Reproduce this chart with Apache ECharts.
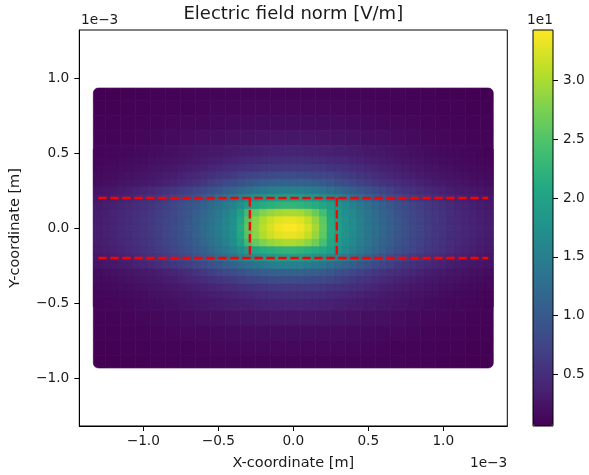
<!DOCTYPE html>
<html><head><meta charset="utf-8">
<script src="https://cdn.jsdelivr.net/npm/echarts@6/dist/echarts.min.js"></script>
<style>html,body{margin:0;padding:0;background:#fff}#c{width:589px;height:475px}</style>
</head><body><div id="c"></div>
<script>
// ---- data (x, y in units of 1e-3 m; field in V/m) ----
// coarse grid over the whole domain
const xCenters = [-1.3,-1.2,-1.1,-1.0,-0.9,-0.8,-0.7,-0.6,-0.5,-0.4,-0.3,-0.2,-0.1,0.0,0.1,0.2,0.3,0.4,0.5,0.6,0.7,0.8,0.9,1.0,1.1,1.2,1.3];
const yCenters = [0.9,0.8,0.7,0.6,0.5,0.4,0.3,0.2,0.1,0.0,-0.1,-0.2,-0.3,-0.4,-0.5,-0.6,-0.7,-0.8,-0.9];

const rowYp09 = [0.6,0.6,0.7,0.7,0.8,0.8,0.9,0.9,0.9,1.0,1.0,1.0,1.0,1.0,1.0,1.0,1.0,1.0,0.9,0.9,0.9,0.8,0.8,0.7,0.7,0.6,0.6];
const rowYp08 = [0.7,0.7,0.8,0.8,0.9,1.0,1.0,1.1,1.2,1.2,1.3,1.3,1.3,1.3,1.3,1.3,1.3,1.2,1.2,1.1,1.0,1.0,0.9,0.8,0.8,0.7,0.7];
const rowYp07 = [0.8,0.8,0.9,1.0,1.1,1.2,1.3,1.4,1.5,1.6,1.7,1.8,1.8,1.8,1.8,1.8,1.7,1.6,1.5,1.4,1.3,1.2,1.1,1.0,0.9,0.8,0.8];
const rowYp06 = [0.9,1.0,1.1,1.2,1.4,1.5,1.7,1.9,2.0,2.2,2.4,2.5,2.6,2.6,2.6,2.5,2.4,2.2,2.0,1.9,1.7,1.5,1.3,1.2,1.1,1.0,0.9];
const rowYp05 = [1.1,1.2,1.4,1.6,1.8,2.0,2.3,2.6,2.9,3.2,3.5,3.7,3.9,4.0,3.9,3.7,3.5,3.2,2.9,2.6,2.3,2.0,1.8,1.5,1.3,1.2,1.0];
const rowYp04 = [1.4,1.6,1.8,2.1,2.4,2.8,3.2,3.7,4.3,4.9,5.4,5.9,6.2,6.3,6.2,5.9,5.4,4.9,4.3,3.7,3.2,2.8,2.4,2.0,1.7,1.5,1.3];
const rowYp03 = [1.8,2.1,2.5,2.9,3.4,4.0,4.8,5.7,6.7,7.7,8.6,9.3,9.8,10.0,9.8,9.4,8.7,7.8,6.8,5.8,4.9,4.1,3.4,2.9,2.4,2.0,1.7];
const rowYp02 = [2.8,3.3,3.9,4.7,5.6,6.7,8.1,9.7,11.5,13.4,15.5,17.0,17.8,17.8,17.2,16.2,14.6,12.9,11.0,9.4,7.9,6.5,5.4,4.5,3.8,3.2,2.7];
const rowYp01 = [3.2,3.8,4.6,5.4,6.5,7.8,9.5,11.6,13.9,16.5,22.0,26.0,28.5,29.0,27.5,24.0,18.8,15.8,13.3,11.1,9.2,7.6,6.3,5.2,4.4,3.7,3.1];
const rowY000 = [3.4,4.0,4.8,5.7,6.8,8.2,10.0,12.2,14.6,17.5,24.5,30.0,33.5,34.3,32.0,27.0,20.0,16.8,14.0,11.7,9.7,8.0,6.6,5.5,4.6,3.9,3.3];
const rowYm01 = [3.2,3.8,4.6,5.4,6.5,7.8,9.5,11.6,13.9,16.5,22.0,26.0,28.5,29.0,27.5,24.5,19.0,15.8,13.3,11.1,9.2,7.6,6.3,5.2,4.4,3.7,3.1];
const rowYm02 = [2.8,3.3,3.9,4.7,5.6,6.7,8.1,9.7,11.5,13.4,15.5,17.0,17.8,17.8,17.2,16.2,14.6,12.9,11.0,9.4,7.9,6.5,5.4,4.5,3.8,3.2,2.7];
const rowYm03 = [1.8,2.1,2.5,2.9,3.4,4.0,4.8,5.7,6.7,7.7,8.6,9.3,9.8,10.0,9.8,9.4,8.7,7.8,6.8,5.8,4.9,4.1,3.4,2.9,2.4,2.0,1.7];
const rowYm04 = [1.4,1.6,1.8,2.1,2.4,2.8,3.2,3.7,4.3,4.9,5.4,5.9,6.2,6.3,6.2,5.9,5.4,4.9,4.3,3.7,3.2,2.8,2.4,2.0,1.7,1.5,1.3];
const rowYm05 = [1.1,1.2,1.4,1.6,1.8,2.0,2.3,2.6,2.9,3.2,3.5,3.7,3.9,4.0,3.9,3.7,3.5,3.2,2.9,2.6,2.3,2.0,1.8,1.5,1.3,1.2,1.0];
const rowYm06 = [0.9,1.0,1.1,1.2,1.4,1.5,1.7,1.9,2.0,2.2,2.4,2.5,2.6,2.6,2.6,2.5,2.4,2.2,2.0,1.9,1.7,1.5,1.3,1.2,1.1,1.0,0.9];
const rowYm07 = [0.8,0.8,0.9,1.0,1.1,1.2,1.3,1.4,1.5,1.6,1.7,1.8,1.8,1.8,1.8,1.8,1.7,1.6,1.5,1.4,1.3,1.2,1.1,1.0,0.9,0.8,0.8];
const rowYm08 = [0.7,0.7,0.8,0.8,0.9,1.0,1.0,1.1,1.2,1.2,1.3,1.3,1.3,1.3,1.3,1.3,1.3,1.2,1.2,1.1,1.0,1.0,0.9,0.8,0.8,0.7,0.7];
const rowYm09 = [0.6,0.6,0.7,0.7,0.8,0.8,0.9,0.9,0.9,1.0,1.0,1.0,1.0,1.0,1.0,1.0,1.0,1.0,0.9,0.9,0.9,0.8,0.8,0.7,0.7,0.6,0.6];
const fieldRows = [rowYp09,rowYp08,rowYp07,rowYp06,rowYp05,rowYp04,rowYp03,rowYp02,rowYp01,rowY000,
                   rowYm01,rowYm02,rowYm03,rowYm04,rowYm05,rowYm06,rowYm07,rowYm08,rowYm09];

// finer grid over the band region |y| <= 0.5
const fineX = [-1.30,-1.25,-1.20,-1.15,-1.10,-1.05,-1.00,-0.95,-0.90,-0.85,-0.80,-0.75,-0.70,-0.65,
               -0.60,-0.55,-0.50,-0.45,-0.40,-0.35,-0.30,-0.25,-0.20,-0.15,-0.10,-0.05,0.00,0.05,0.10,0.15,0.20,0.25,0.30,0.35,0.40,0.45,0.50,0.55,0.60,
               0.65,0.70,0.75,0.80,0.85,0.90,0.95,1.00,1.05,1.10,1.15,1.20,1.25,1.30];
const fineY = [0.50,0.45,0.40,0.35,0.30,0.25,0.20,0.15,0.10,0.05,0.00,-0.05,-0.10,-0.15,-0.20,-0.25,-0.30,-0.35,-0.40,-0.45,-0.50];

const fineYp050 = [1.1,1.2,1.2,1.3,1.4,1.5, 1.6,1.7,1.8,1.9,2.0,2.2,2.3,2.5,2.6,2.8,2.9,3.1,3.2,3.4,3.5,3.6,3.7,3.8,3.9,4.0,4.0,4.0,3.9,3.8,3.7,3.6,3.5,3.4,3.2,3.1,2.9,2.8,2.6,2.5,2.3,2.2,2.0,1.9,1.8,1.6,1.5, 1.4,1.3,1.2,1.2,1.1,1.0];
const fineYp045 = [1.2,1.3,1.4,1.5,1.6,1.7, 1.8,1.9,2.1,2.2,2.4,2.5,2.7,2.9,3.1,3.3,3.5,3.7,3.9,4.1,4.3,4.5,4.7,4.8,4.9,5.0,5.0,5.0,4.9,4.8,4.7,4.5,4.3,4.1,3.9,3.7,3.5,3.3,3.1,2.9,2.7,2.5,2.4,2.2,2.0,1.9,1.7, 1.6,1.5,1.4,1.3,1.2,1.1];
const fineYp040 = [1.4,1.5,1.6,1.7,1.8,2.0, 2.1,2.3,2.4,2.6,2.8,3.0,3.2,3.5,3.7,4.0,4.3,4.6,4.9,5.2,5.4,5.7,5.9,6.1,6.2,6.3,6.3,6.3,6.2,6.1,5.9,5.7,5.4,5.2,4.9,4.6,4.3,4.0,3.7,3.5,3.2,3.0,2.8,2.6,2.4,2.2,2.0, 1.9,1.8,1.6,1.5,1.4,1.3];
const fineYp035 = [1.6,1.7,1.8,2.0,2.2,2.3, 2.5,2.7,2.9,3.2,3.4,3.7,4.1,4.4,4.8,5.2,5.6,6.0,6.4,6.8,7.2,7.5,7.8,8.0,8.2,8.3,8.3,8.2,8.1,7.9,7.6,7.3,6.9,6.5,6.1,5.7,5.3,4.9,4.5,4.2,3.9,3.6,3.3,3.0,2.8,2.6,2.4, 2.2,2.1,1.9,1.8,1.6,1.5];
const fineYp030 = [1.8,1.9,2.1,2.3,2.5,2.7, 2.9,3.1,3.4,3.7,4.0,4.4,4.8,5.3, 6.0,6.6,7.2,7.8,8.4,9.0,9.6,10.1,10.5,10.8,11.0,11.1,11.1,11.0,10.8,10.4,10.0,9.5,8.9,8.3,7.7,7.1,6.5,6.0,5.5, 5.1,4.8,4.4,4.1,3.7,3.4,3.1,2.9, 2.7,2.5,2.3,2.1,1.9,1.7];
const fineYp025 = [2.4,2.6,2.8,3.1,3.4,3.7, 4.0,4.4,4.8,5.3,5.8,6.3,6.8,7.4, 8.0,8.8,9.6,10.4,11.2,12.0,12.8,13.5,14.1,14.6,15.0,15.2,15.2,15.0,14.6,14.1,13.5,12.8,12.0,11.2,10.4,9.6,8.8,8.1,7.4, 6.8,6.2,5.7,5.2,4.8,4.4,4.0,3.7, 3.4,3.1,2.9,2.7,2.5,2.3];
const fineYp020 = [2.8,3.0,3.3,3.6,3.9,4.3, 4.8,5.3,5.8,6.4,7.0,7.6,8.3,9.1, 9.9,10.9,11.9,12.9,13.9,15.0,16.2,17.2,18.0,18.6,19.0,19.2,19.2,19.0,18.6,18.0,17.2,16.3,15.4,14.2,13.1,12.0,11.0,10.0,9.1, 8.3,7.6,6.9,6.3,5.8,5.3,4.8,4.4, 4.0,3.7,3.4,3.1,2.9,2.7];
const fineYp015 = [3.0,3.3,3.6,4.0,4.4,4.8, 5.2,5.7,6.3,6.9,7.6,8.3,9.1,10.0, 10.9,12.0,13.2,14.4,15.6,17.2,19.0,20.3,21.2,21.8,22.3,22.6,22.6,22.3,21.8,21.2,20.3,19.2,18.0,16.5,15.3,14.1,12.9,11.8,10.7, 9.7,8.9,8.1,7.4,6.7,6.1,5.6,5.1, 4.6,4.2,3.8,3.5,3.2,2.9];
const fineYp010 = [3.2,3.5,3.8,4.2,4.6,5.0, 5.4,6.0,6.6,7.2,7.9,8.7,9.5,10.5, 11.6,12.8,14.0,15.3,16.8,19.5,23.8,26.2,27.8,28.8,29.6,30.0,30.0,29.6,28.5,26.5,24.0,20.2,18.9,17.3,16.2,14.8,13.5,12.3,11.2, 10.2,9.3,8.5,7.7,7.0,6.4,5.8,5.3, 4.8,4.4,4.0,3.7,3.4,3.1];
const fineYp005 = [3.3,3.6,3.9,4.3,4.7,5.1, 5.5,6.1,6.7,7.4,8.1,8.9,9.8,10.7, 12.0,13.2,14.4,15.8,17.3,20.8,25.2,28.3,30.3,31.7,32.7,33.2,33.2,32.7,31.3,28.8,25.8,20.9,19.4,17.6,16.6,15.1,13.8,12.6,11.5, 10.5,9.6,8.7,7.9,7.2,6.5,5.9,5.4, 4.9,4.5,4.1,3.8,3.5,3.2];
const fineY000  = [3.4,3.7,4.0,4.4,4.8,5.2, 5.6,6.2,6.8,7.5,8.2,9.0,9.9,10.9, 12.2,13.4,14.6,16.0,17.5,21.2,25.6,28.6,30.7,32.2,33.6,34.1,34.3,33.6,32.2,29.7,26.2,21.1,19.6,17.8,16.8,15.3,14.0,12.8,11.7, 10.7,9.7,8.8,8.0,7.3,6.6,6.0,5.5, 5.0,4.6,4.2,3.9,3.6,3.3];
const fineYm005 = [3.3,3.6,3.9,4.3,4.7,5.1, 5.5,6.1,6.7,7.4,8.1,8.9,9.8,10.7, 12.0,13.2,14.4,15.8,17.3,20.8,25.2,28.3,30.3,31.7,32.7,33.2,33.2,32.7,31.3,28.8,25.8,21.0,19.4,17.6,16.6,15.1,13.8,12.6,11.5, 10.5,9.6,8.7,7.9,7.2,6.5,5.9,5.4, 4.9,4.5,4.1,3.8,3.5,3.2];
const fineYm010 = [3.2,3.5,3.8,4.2,4.6,5.0, 5.4,6.0,6.6,7.2,7.9,8.7,9.5,10.5, 11.6,12.8,14.0,15.3,16.8,19.5,23.8,26.2,27.8,28.8,29.6,30.0,30.0,29.6,28.5,26.8,24.3,20.5,19.0,17.3,16.2,14.8,13.5,12.3,11.2, 10.2,9.3,8.5,7.7,7.0,6.4,5.8,5.3, 4.8,4.4,4.0,3.7,3.4,3.1];
const fineYm015 = [3.0,3.3,3.6,4.0,4.4,4.8, 5.2,5.7,6.3,6.9,7.6,8.3,9.1,10.0, 10.9,12.0,13.2,14.4,15.6,17.2,19.0,20.3,21.2,21.8,22.3,22.6,22.6,22.3,21.8,21.2,20.5,19.4,18.1,16.5,15.3,14.1,12.9,11.8,10.7, 9.7,8.9,8.1,7.4,6.7,6.1,5.6,5.1, 4.6,4.2,3.8,3.5,3.2,2.9];
const fineYm020 = [2.8,3.0,3.3,3.6,3.9,4.3, 4.8,5.3,5.8,6.4,7.0,7.6,8.3,9.1, 9.9,10.9,11.9,12.9,13.9,15.0,16.2,17.2,18.0,18.6,19.0,19.2,19.2,19.0,18.6,18.0,17.2,16.3,15.4,14.2,13.1,12.0,11.0,10.0,9.1, 8.3,7.6,6.9,6.3,5.8,5.3,4.8,4.4, 4.0,3.7,3.4,3.1,2.9,2.7];
const fineYm025 = [2.4,2.6,2.8,3.1,3.4,3.7, 4.0,4.4,4.8,5.3,5.8,6.3,6.8,7.4, 8.0,8.8,9.6,10.4,11.2,12.0,12.8,13.5,14.1,14.6,15.0,15.2,15.2,15.0,14.6,14.1,13.5,12.8,12.0,11.2,10.4,9.6,8.8,8.1,7.4, 6.8,6.2,5.7,5.2,4.8,4.4,4.0,3.7, 3.4,3.1,2.9,2.7,2.5,2.3];
const fineYm030 = [1.8,1.9,2.1,2.3,2.5,2.7, 2.9,3.1,3.4,3.7,4.0,4.4,4.8,5.3, 6.0,6.6,7.2,7.8,8.4,9.0,9.6,10.1,10.5,10.8,11.0,11.1,11.1,11.0,10.8,10.4,10.0,9.5,8.9,8.3,7.7,7.1,6.5,6.0,5.5, 5.1,4.8,4.4,4.1,3.7,3.4,3.1,2.9, 2.7,2.5,2.3,2.1,1.9,1.7];
const fineYm035 = [1.6,1.7,1.8,2.0,2.2,2.3, 2.5,2.7,2.9,3.2,3.4,3.7,4.1,4.4,4.8,5.2,5.6,6.0,6.4,6.8,7.2,7.5,7.8,8.0,8.2,8.3,8.3,8.2,8.1,7.9,7.6,7.3,6.9,6.5,6.1,5.7,5.3,4.9,4.5,4.2,3.9,3.6,3.3,3.0,2.8,2.6,2.4, 2.2,2.1,1.9,1.8,1.6,1.5];
const fineYm040 = [1.4,1.5,1.6,1.7,1.8,2.0, 2.1,2.3,2.4,2.6,2.8,3.0,3.2,3.5,3.7,4.0,4.3,4.6,4.9,5.2,5.4,5.7,5.9,6.1,6.2,6.3,6.3,6.3,6.2,6.1,5.9,5.7,5.4,5.2,4.9,4.6,4.3,4.0,3.7,3.5,3.2,3.0,2.8,2.6,2.4,2.2,2.0, 1.9,1.8,1.6,1.5,1.4,1.3];
const fineYm045 = [1.2,1.3,1.4,1.5,1.6,1.7, 1.8,1.9,2.1,2.2,2.4,2.5,2.7,2.9,3.1,3.3,3.5,3.7,3.9,4.1,4.3,4.5,4.7,4.8,4.9,5.0,5.0,5.0,4.9,4.8,4.7,4.5,4.3,4.1,3.9,3.7,3.5,3.3,3.1,2.9,2.7,2.5,2.4,2.2,2.0,1.9,1.7, 1.6,1.5,1.4,1.3,1.2,1.1];
const fineYm050 = [1.1,1.2,1.2,1.3,1.4,1.5, 1.6,1.7,1.8,1.9,2.0,2.2,2.3,2.5,2.6,2.8,2.9,3.1,3.2,3.4,3.5,3.6,3.7,3.8,3.9,4.0,4.0,4.0,3.9,3.8,3.7,3.6,3.5,3.4,3.2,3.1,2.9,2.8,2.6,2.5,2.3,2.2,2.0,1.9,1.8,1.6,1.5, 1.4,1.3,1.2,1.2,1.1,1.0];
const fineRows = [fineYp050,fineYp045,fineYp040,fineYp035,fineYp030,fineYp025,fineYp020,fineYp015,fineYp010,fineYp005,fineY000,
                  fineYm005,fineYm010,fineYm015,fineYm020,fineYm025,fineYm030,fineYm035,fineYm040,fineYm045,fineYm050];

const xTickValues = [-1.0,-0.5,0.0,0.5,1.0];
const yTickValues = [-1.0,-0.5,0.0,0.5,1.0];
const cbarTickValues = [0.5,1.0,1.5,2.0,2.5,3.0];
const fieldMin = 0.6, fieldMax = 34.3;          // V/m
const bandY = [-0.2, 0.2];                      // dashed horizontal lines
const bandX = [-1.3, 1.3];
const gateX = [-0.29, 0.29];                    // dashed vertical lines

// ---- layout ----
const FONT = 'DejaVu Sans';
const G = {left: 79.3, top: 30, width: 428, height: 396};
const xRange = [-1.4267, 1.4267], yRange = [-1.32, 1.32];
const domX = [-1.333, 1.333], domY = [-0.933, 0.933];
const CB = {left: 533, top: 30, width: 20, height: 396};
const viridis = ['#440154','#482475','#414487','#355f8d','#2a788e','#21918c','#22a884','#44bf70','#7ad151','#bddf26','#fde725'];
const fmt = v => v.toFixed(1).replace('-', '\u2212');

// ---- build cells (coarse first, fine grid drawn over it) ----
const cells = [];
function addGrid(xs, ys, rows, bx, by, rounded) {
  for (let j = 0; j < ys.length; j++) {
    const yc = ys[j];
    const yTop = j === 0 ? by[1] : (ys[j-1] + yc) / 2;
    const yBot = j === ys.length - 1 ? by[0] : (ys[j+1] + yc) / 2;
    for (let i = 0; i < xs.length; i++) {
      const xc = xs[i];
      const xL = i === 0 ? bx[0] : (xs[i-1] + xc) / 2;
      const xR = i === xs.length - 1 ? bx[1] : (xs[i+1] + xc) / 2;
      let r = 0;
      if (rounded) {
        const nI = xs.length - 1, nJ = ys.length - 1;
        if (i === 0 && j === 0) r = [5,0,0,0];
        else if (i === nI && j === 0) r = [0,5,0,0];
        else if (i === nI && j === nJ) r = [0,0,5,0];
        else if (i === 0 && j === nJ) r = [0,0,0,5];
      }
      cells.push({value: [xc, yc, rows[j][i], xL, xR, yBot, yTop], r});
    }
  }
}
addGrid(xCenters, yCenters, fieldRows, domX, domY, true);
addGrid(fineX, fineY, fineRows, domX, [-0.525, 0.525], false);

const dashStyle = {color: '#ff0000', width: 2.3, type: [8.4, 3.6]};
const lineSeries = (pts) => ({type: 'line', xAxisIndex: 0, yAxisIndex: 0, data: pts, showSymbol: false,
  symbol: 'none', lineStyle: dashStyle, silent: true, z: 5, animation: false});

const chart = echarts.init(document.getElementById('c'), null, {renderer: 'canvas'});
chart.setOption({
  animation: false,
  backgroundColor: '#fff',
  textStyle: {fontFamily: FONT},
  grid: [
    {left: G.left, top: G.top, width: G.width, height: G.height, show: true, borderColor: '#000', borderWidth: 1, backgroundColor: 'transparent'},
    {left: CB.left, top: CB.top, width: CB.width, height: CB.height}
  ],
  xAxis: [
    {type: 'value', gridIndex: 0, min: xRange[0], max: xRange[1],
     axisLine: {show: true, onZero: false, lineStyle: {color: '#000', width: 1}},
     axisTick: {show: true, customValues: xTickValues, length: 5, lineStyle: {color: '#000', width: 1}},
     axisLabel: {customValues: xTickValues, formatter: fmt, color: '#1a1a1a', fontSize: 13.7, margin: 8, fontFamily: FONT},
     splitLine: {show: false}},
    {type: 'value', gridIndex: 1, min: 0, max: 1, show: false}
  ],
  yAxis: [
    {type: 'value', gridIndex: 0, min: yRange[0], max: yRange[1],
     axisLine: {show: true, onZero: false, lineStyle: {color: '#000', width: 1}},
     axisTick: {show: true, customValues: yTickValues, length: 5, lineStyle: {color: '#000', width: 1}},
     axisLabel: {customValues: yTickValues, formatter: fmt, color: '#1a1a1a', fontSize: 13.7, margin: 10, fontFamily: FONT},
     splitLine: {show: false}},
    {type: 'value', gridIndex: 1, position: 'right', min: fieldMin / 10, max: fieldMax / 10,
     axisLine: {show: false, onZero: false},
     axisTick: {show: true, customValues: cbarTickValues, length: 5, lineStyle: {color: '#000', width: 1}},
     axisLabel: {customValues: cbarTickValues, formatter: fmt, color: '#1a1a1a', fontSize: 13.7, margin: 10, fontFamily: FONT},
     splitLine: {show: false}}
  ],
  visualMap: {
    type: 'continuous', min: fieldMin, max: fieldMax, dimension: 2, seriesIndex: 0,
    calculable: false, realtime: false, left: CB.left, top: CB.top, itemWidth: CB.width, itemHeight: CB.height,
    padding: 0, text: null, showLabel: false, hoverLink: false,
    inRange: {color: viridis}
  },
  graphic: [
    {type: 'rect', z: 100, silent: true, shape: {x: CB.left, y: CB.top, width: CB.width, height: CB.height},
     style: {fill: null, stroke: '#000', lineWidth: 1}},
    {type: 'text', z: 100, silent: true, style: {text: 'Electric field norm [V/m]', x: G.left + G.width / 2, y: 14.5,
     font: '18px "DejaVu Sans"', fill: '#1a1a1a', align: 'center', verticalAlign: 'middle', textAlign: 'center', textVerticalAlign: 'middle'}},
    {type: 'text', z: 100, silent: true, style: {text: 'X-coordinate [m]', x: G.left + G.width / 2, y: 463,
     font: '14.5px "DejaVu Sans"', fill: '#1a1a1a', align: 'center', verticalAlign: 'middle', textAlign: 'center', textVerticalAlign: 'middle'}},
    {type: 'text', z: 100, silent: true, rotation: Math.PI / 2, x: 15, y: G.top + G.height / 2,
     style: {text: 'Y-coordinate [m]', x: 0, y: 0,
     font: '14.5px "DejaVu Sans"', fill: '#1a1a1a', align: 'center', verticalAlign: 'middle', textAlign: 'center', textVerticalAlign: 'middle'}},
    {type: 'text', z: 100, silent: true, style: {text: '1e\u22123', x: 81, y: 20.5,
     font: '13.7px "DejaVu Sans"', fill: '#1a1a1a', align: 'left', verticalAlign: 'middle', textAlign: 'left', textVerticalAlign: 'middle'}},
    {type: 'text', z: 100, silent: true, style: {text: '1e\u22123', x: G.left + G.width, y: 463,
     font: '13.7px "DejaVu Sans"', fill: '#1a1a1a', align: 'right', verticalAlign: 'middle', textAlign: 'right', textVerticalAlign: 'middle'}},
    {type: 'text', z: 100, silent: true, style: {text: '1e1', x: 540, y: 20,
     font: '13.7px "DejaVu Sans"', fill: '#1a1a1a', align: 'center', verticalAlign: 'middle', textAlign: 'center', textVerticalAlign: 'middle'}}
  ],
  series: [
    {type: 'custom', xAxisIndex: 0, yAxisIndex: 0, silent: true, clip: true, z: 2,
     encode: {x: 0, y: 1},
     data: cells,
     renderItem: function (params, api) {
       const p0 = api.coord([api.value(3), api.value(6)]);
       const p1 = api.coord([api.value(4), api.value(5)]);
       const c = api.visual('color');
       return {type: 'rect',
         shape: {x: p0[0], y: p0[1], width: p1[0] - p0[0], height: p1[1] - p0[1], r: cells[params.dataIndex].r},
         style: {fill: c, stroke: c, lineWidth: 0.7}};
     }},
    lineSeries([[bandX[0], bandY[1]], [bandX[1], bandY[1]]]),
    lineSeries([[bandX[0], bandY[0]], [bandX[1], bandY[0]]]),
    lineSeries([[gateX[0], bandY[1]], [gateX[0], bandY[0]]]),
    lineSeries([[gateX[1], bandY[1]], [gateX[1], bandY[0]]])
  ]
});
</script></body></html>
